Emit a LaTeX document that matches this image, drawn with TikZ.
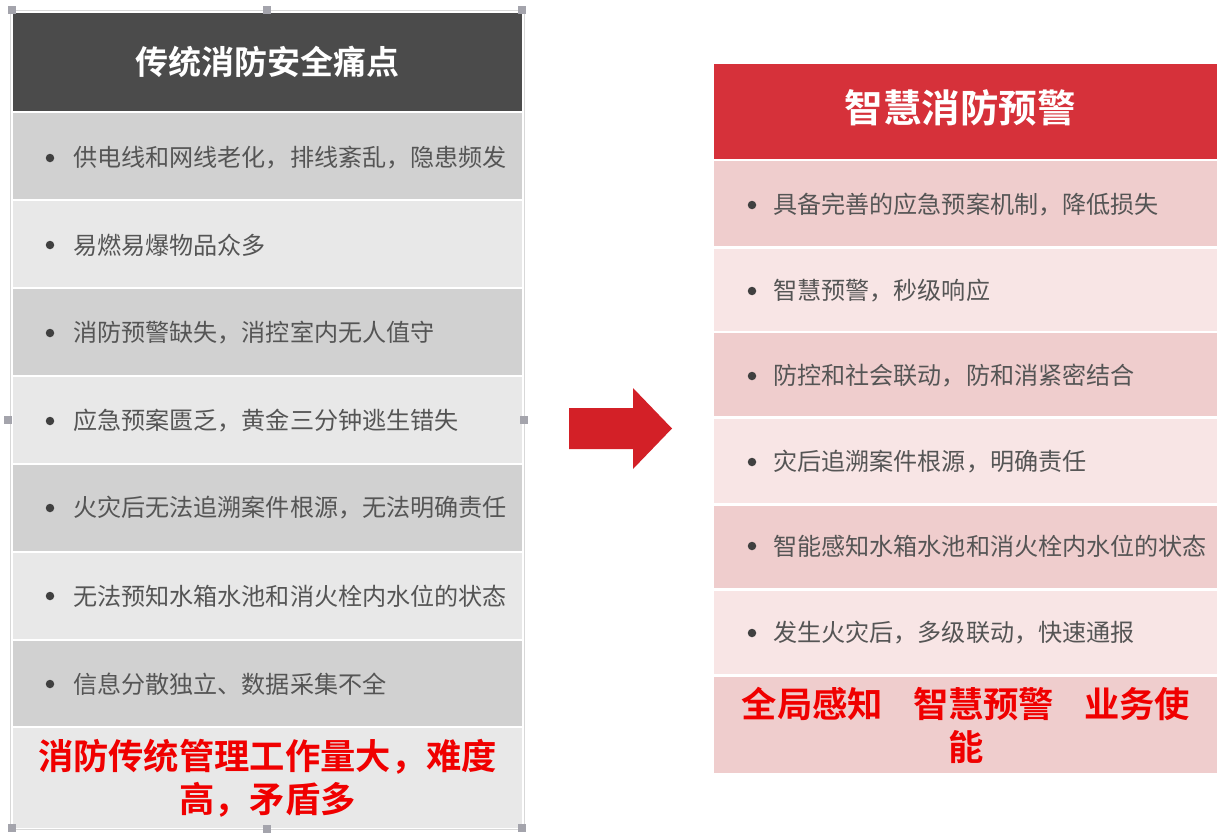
\documentclass[tikz,border=0pt]{standalone}
\usepackage{fontspec}
\setmainfont{Noto Sans CJK SC}[BoldFont={* Bold}]
\definecolor{hdgray}{HTML}{4B4B4B}
\definecolor{ldark}{HTML}{D1D1D1}
\definecolor{llight}{HTML}{E8E8E8}
\definecolor{txtgray}{HTML}{555555}
\definecolor{bulgray}{HTML}{404040}
\definecolor{hdred}{HTML}{D6313A}
\definecolor{rdark}{HTML}{EFCDCD}
\definecolor{rlight}{HTML}{F8E5E5}
\definecolor{hotred}{HTML}{F00000}
\definecolor{arrred}{HTML}{D32027}
\definecolor{selgray}{HTML}{D8D8D8}
\definecolor{handle}{HTML}{A4A4AC}
\begin{document}
\begin{tikzpicture}[x=1pt,y=-1pt,
  cell/.style={draw=none,inner sep=0pt,minimum width=#1},
  lcell/.style={cell=509pt},
  rcell/.style={cell=503pt},
  bul/.style={circle,fill=bulgray,inner sep=0pt,minimum size=8.5pt},
  itemtxt/.style={anchor=west,inner sep=0pt,text=txtgray,font=\fontsize{24.1}{28}\selectfont},
  hdtxt/.style={text=white,font=\fontsize{#1}{#1}\selectfont\bfseries,inner sep=0pt},
  bigred/.style={text=hotred,align=center,inner sep=0pt,font=\fontsize{35.3}{43}\selectfont\bfseries},
  hnd/.style={fill=handle,draw=none,minimum size=8pt,inner sep=0pt}
]
\useasboundingbox[fill=white] (0,0) rectangle (1227,835);

% selection frame around left table
\draw[selgray,line width=1pt] (10,10) rectangle (524,829);

% ---------- left table ----------
\node[lcell,fill=hdgray,minimum height=98pt] (LH) at (267.5,62) {};
\node[hdtxt=33] (LHt) at (267.5,62) {传统消防安全痛点};

\node[lcell,fill=ldark,minimum height=86pt] (L1) at (267.5,156) {};
\node[lcell,fill=llight,minimum height=86pt] (L2) at (267.5,244) {};
\node[lcell,fill=ldark,minimum height=86pt] (L3) at (267.5,332) {};
\node[lcell,fill=llight,minimum height=86pt] (L4) at (267.5,420) {};
\node[lcell,fill=ldark,minimum height=86pt] (L5) at (267.5,508) {};
\node[lcell,fill=llight,minimum height=86pt] (L6) at (267.5,596) {};
\node[lcell,fill=ldark,minimum height=85pt] (L7) at (267.5,683) {};
\node[lcell,fill=llight,minimum height=100pt] (L8) at (267.5,778) {};

\node[bul] (L1b) at (50,158) {}; \node[itemtxt] (L1t) at (73,158) {供电线和网线老化，排线紊乱，隐患频发};
\node[bul] (L2b) at (50,245) {}; \node[itemtxt] (L2t) at (73,245) {易燃易爆物品众多};
\node[bul] (L3b) at (50,333) {}; \node[itemtxt] (L3t) at (73,333) {消防预警缺失，消控室内无人值守};
\node[bul] (L4b) at (50,421) {}; \node[itemtxt] (L4t) at (73,421) {应急预案匮乏，黄金三分钟逃生错失};
\node[bul] (L5b) at (50,508) {}; \node[itemtxt] (L5t) at (73,508) {火灾后无法追溯案件根源，无法明确责任};
\node[bul] (L6b) at (50,596) {}; \node[itemtxt] (L6t) at (73,596) {无法预知水箱水池和消火栓内水位的状态};
\node[bul] (L7b) at (50,684) {}; \node[itemtxt] (L7t) at (73,684) {信息分散独立、数据采集不全};

\node[bigred] (L8t) at (267.5,778) {消防传统管理工作量大，难度\\高，矛盾多};

% selection handles
\node[hnd] (h1) at (12,10) {};
\node[hnd] (h2) at (267,10) {};
\node[hnd] (h3) at (522,10) {};
\node[hnd] (h4) at (8,420) {};
\node[hnd] (h5) at (524,420) {};
\node[hnd] (h6) at (12,828) {};
\node[hnd] (h7) at (267,829) {};
\node[hnd] (h8) at (522,828) {};

% ---------- arrow ----------
\fill[arrred] (569,408) -- (633,408) -- (633,388) -- (672,428.5) -- (633,469) -- (633,449) -- (569,449) -- cycle;

% ---------- right table ----------
\node[rcell,fill=hdred,minimum height=95pt] (RH) at (965.5,111) {};
\node[hdtxt=38.5] (RHt) at (960,108) {智慧消防预警};

\node[rcell,fill=rdark,minimum height=85pt] (R1) at (965.5,203) {};
\node[rcell,fill=rlight,minimum height=82pt] (R2) at (965.5,289.5) {};
\node[rcell,fill=rdark,minimum height=83pt] (R3) at (965.5,374) {};
\node[rcell,fill=rlight,minimum height=84pt] (R4) at (965.5,460.5) {};
\node[rcell,fill=rdark,minimum height=82pt] (R5) at (965.5,546.5) {};
\node[rcell,fill=rlight,minimum height=83pt] (R6) at (965.5,632) {};
\node[rcell,fill=rdark,minimum height=96pt] (R7) at (965.5,724.5) {};

\node[bul] (R1b) at (752,205) {}; \node[itemtxt] (R1t) at (773,205) {具备完善的应急预案机制，降低损失};
\node[bul] (R2b) at (752,291) {}; \node[itemtxt] (R2t) at (773,291) {智慧预警，秒级响应};
\node[bul] (R3b) at (752,376) {}; \node[itemtxt] (R3t) at (773,376) {防控和社会联动，防和消紧密结合};
\node[bul] (R4b) at (752,462) {}; \node[itemtxt] (R4t) at (773,462) {灾后追溯案件根源，明确责任};
\node[bul] (R5b) at (752,546) {}; \node[itemtxt] (R5t) at (773,546) {智能感知水箱水池和消火栓内水位的状态};
\node[bul] (R6b) at (752,633) {}; \node[itemtxt] (R6t) at (773,633) {发生火灾后，多级联动，快速通报};

\node[bigred] (R7t) at (966,725) {全局感知\hspace{0.85em}智慧预警\hspace{0.85em}业务使\\能};
\end{tikzpicture}
\end{document}
